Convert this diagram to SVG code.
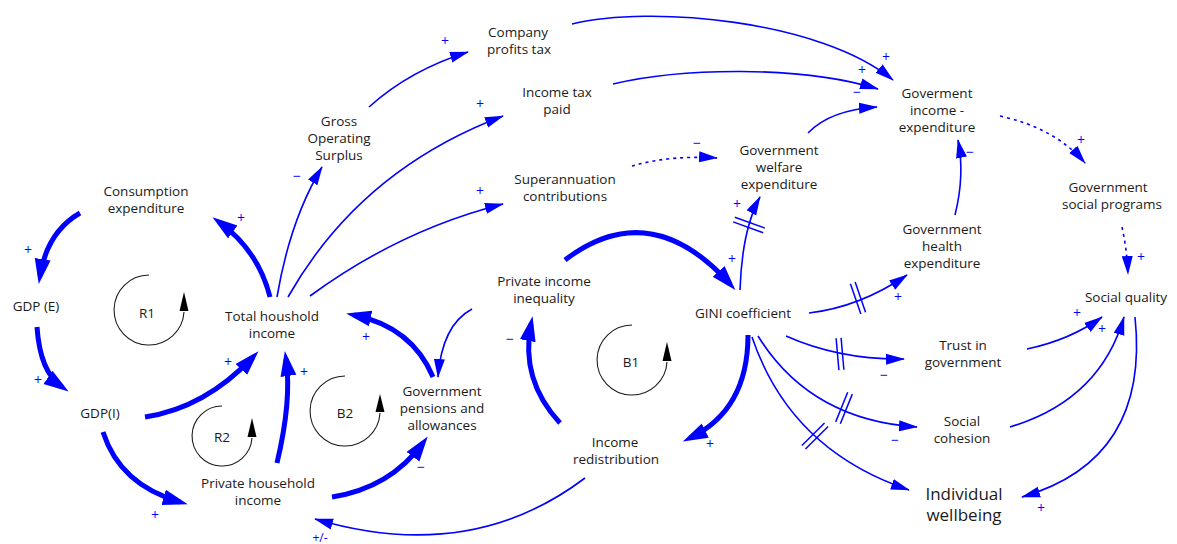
<svg xmlns="http://www.w3.org/2000/svg" width="1177" height="544" viewBox="0 0 1177 544">
<defs>
<style>
.n text{font-family:"Open Sans","Noto Sans",sans-serif;font-size:13.5px;fill:#1a1a1a;text-anchor:middle}
.n text.big{font-size:17px}
.c path{fill:none;stroke:#0000ff}
.c .tk{stroke-width:5;marker-end:url(#ah)}
.c .tn{stroke-width:1.6;marker-end:url(#at)}
.c .dt{stroke-dasharray:3 4}
.c .h line{stroke:#0000ff;stroke-width:1.5}
.s text{font-family:"Open Sans","Noto Sans",sans-serif;font-size:14px;fill:#0000ff;text-anchor:middle}
.lp path.arc{fill:none;stroke:#1a1a1a;stroke-width:1.1}
.lp path.hd{fill:#000}
.lp text{font-family:"Open Sans","Noto Sans",sans-serif;font-size:13.5px;fill:#1a1a1a;text-anchor:middle}
</style>
<marker id="ah" markerUnits="userSpaceOnUse" viewBox="0 -9 26 18" markerWidth="26" markerHeight="18" refX="17" refY="0" orient="auto"><path d="M0,-8 L25,0 L0,8 z" fill="#0000ff"/></marker>
<marker id="at" markerUnits="userSpaceOnUse" viewBox="0 -6 19 12" markerWidth="19" markerHeight="12" refX="18" refY="0" orient="auto"><path d="M0,-5.5 L19,0 L0,5.5 z" fill="#0000ff"/></marker>
</defs>
<rect width="1177" height="544" fill="#ffffff"/>

<g id="connectors" class="c">
<path class="tk" d="M80,213 Q47,232 40,276"/>
<path class="tk" d="M37,327 Q40,372 62,387"/>
<path class="tk" d="M145,417 Q205,408 253,357"/>
<path class="tk" d="M103,432 Q120,485 180,502"/>
<path class="tk" d="M277,463 Q292,400 286,359"/>
<path class="tk" d="M270,297 Q258,250 219,222"/>
<path class="tk" d="M433,377 Q412,327 354,315"/>
<path class="tk" d="M332,497 Q390,488 423,443"/>
<path class="tk" d="M560,423 Q520,380 531,324"/>
<path class="tk" d="M565,260 Q650,195 730,284"/>
<path class="tk" d="M748,335 Q748,410 690,438"/>

<path class="tn" d="M277,297 Q290,220 322,167"/>
<path class="tn" d="M288,297 Q360,170 503,116"/>
<path class="tn" d="M310,296 Q400,230 503,204"/>
<path class="tn" d="M369,107 Q410,70 468,52"/>
<path class="tn" d="M572,24 C650,5 820,20 893,80"/>
<path class="tn" d="M613,84 C680,68 800,65 878,89"/>
<path class="tn" d="M808,133 Q830,110 877,107"/>
<path class="tn dt" d="M1000,116 Q1055,128 1085,163"/>
<path class="tn" d="M955,215 Q965,175 958,140"/>
<path class="tn dt" d="M632,166 Q670,155 717,158"/>
<path class="tn" d="M740,290 Q742,230 760,197"/>
<path class="tn" d="M809,313 Q860,307 907,275"/>
<path class="tn" d="M786,336 Q840,360 904,359"/>
<path class="tn" d="M758,336 Q810,420 917,427"/>
<path class="tn" d="M752,337 Q790,450 909,490"/>
<path class="tn" d="M1027,349 Q1070,340 1102,317"/>
<path class="tn" d="M1010,427 Q1100,400 1124,317"/>
<path class="tn" d="M1135,317 Q1150,460 1022,497"/>
<path class="tn dt" d="M1122,227 Q1127,250 1128,274"/>
<path class="tn" d="M585,478 Q470,565 315,519"/>
<path class="tn" d="M472,309 Q442,325 438,377"/>

<g class="h" transform="translate(749,225) rotate(20)"><line x1="-16" y1="-2.5" x2="16" y2="-2.5"/><line x1="-16" y1="2.5" x2="16" y2="2.5"/></g>
<g class="h" transform="translate(858,298) rotate(71)"><line x1="-16" y1="-2.5" x2="16" y2="-2.5"/><line x1="-16" y1="2.5" x2="16" y2="2.5"/></g>
<g class="h" transform="translate(840,354) rotate(85)"><line x1="-16" y1="-2.5" x2="16" y2="-2.5"/><line x1="-16" y1="2.5" x2="16" y2="2.5"/></g>
<g class="h" transform="translate(844,408) rotate(112)"><line x1="-16" y1="-2.5" x2="16" y2="-2.5"/><line x1="-16" y1="2.5" x2="16" y2="2.5"/></g>
<g class="h" transform="translate(815,436) rotate(135)"><line x1="-16" y1="-2.5" x2="16" y2="-2.5"/><line x1="-16" y1="2.5" x2="16" y2="2.5"/></g>
</g>

<g id="signs" class="s">
<text x="28" y="255">+</text>
<text x="38" y="385">+</text>
<text x="228" y="367">+</text>
<text x="155" y="520">+</text>
<text x="304" y="377">+</text>
<text x="241" y="223">+</text>
<text x="366" y="342">+</text>
<text x="421" y="472">−</text>
<text x="297" y="181">−</text>
<text x="480" y="109">+</text>
<text x="480" y="196">+</text>
<text x="445" y="46">+</text>
<text x="886" y="62">+</text>
<text x="862" y="75">+</text>
<text x="857" y="97">−</text>
<text x="1081" y="145">+</text>
<text x="970" y="157">−</text>
<text x="697" y="148">−</text>
<text x="737" y="209">+</text>
<text x="732" y="264">+</text>
<text x="510" y="344">−</text>
<text x="710" y="449">+</text>
<text x="898" y="302">+</text>
<text x="884" y="380">−</text>
<text x="895" y="445">−</text>
<text x="1141" y="262">+</text>
<text x="1077" y="318">+</text>
<text x="1102" y="334">+</text>
<text x="1041" y="513">+</text>
<text x="320" y="542" style="font-size:12px">+/-</text>
</g>

<g id="loops" class="lp">
<g id="loop-R1"><path class="arc" d="M149,275 A35,35 0 1 0 184,312"/><path class="hd" d="M179.5,311 L188.5,311 L184,292 z"/><text x="147" y="318">R1</text></g>
<g id="loop-R2"><path class="arc" d="M222,406 A30,30 0 1 0 252,438"/><path class="hd" d="M247.5,437 L256.5,437 L252,418 z"/><text x="222" y="442">R2</text></g>
<g id="loop-B2"><path class="arc" d="M345,376 A35,35 0 1 0 380,413"/><path class="hd" d="M375.5,412 L384.5,412 L380,394 z"/><text x="345" y="418">B2</text></g>
<g id="loop-B1"><path class="arc" d="M632,325 A35,35 0 1 0 667,362"/><path class="hd" d="M662.5,361 L671.5,361 L667,342 z"/><text x="631" y="367">B1</text></g>
</g>

<g id="node-consumption" class="n"><text x="146" y="196">Consumption</text><text x="146" y="213">expenditure</text></g>
<g id="node-gdpe" class="n"><text x="36" y="311">GDP (E)</text></g>
<g id="node-gdpi" class="n"><text x="100" y="418">GDP(I)</text></g>
<g id="node-total" class="n"><text x="272" y="321">Total houshold</text><text x="272" y="338">income</text></g>
<g id="node-private" class="n"><text x="258" y="488">Private household</text><text x="258" y="505">income</text></g>
<g id="node-pensions" class="n"><text x="442" y="396">Government</text><text x="442" y="413">pensions and</text><text x="442" y="430">allowances</text></g>
<g id="node-gos" class="n"><text x="339" y="126">Gross</text><text x="339" y="143">Operating</text><text x="339" y="160">Surplus</text></g>
<g id="node-company" class="n"><text x="518" y="37">Company</text><text x="519" y="54">profits tax</text></g>
<g id="node-incometax" class="n"><text x="557" y="97">Income tax</text><text x="557" y="114">paid</text></g>
<g id="node-super" class="n"><text x="565" y="184">Superannuation</text><text x="565" y="201">contributions</text></g>
<g id="node-inequality" class="n"><text x="544" y="286">Private income</text><text x="544" y="303">inequality</text></g>
<g id="node-redistribution" class="n"><text x="615" y="447">Income</text><text x="616" y="464">redistribution</text></g>
<g id="node-gini" class="n"><text x="743" y="318">GINI coefficient</text></g>
<g id="node-welfare" class="n"><text x="779" y="155">Government</text><text x="779" y="172">welfare</text><text x="779" y="189">expenditure</text></g>
<g id="node-govincome" class="n"><text x="937" y="98">Goverment</text><text x="937" y="115">income -</text><text x="937" y="132">expenditure</text></g>
<g id="node-health" class="n"><text x="942" y="234">Government</text><text x="942" y="251">health</text><text x="942" y="268">expenditure</text></g>
<g id="node-socialprograms" class="n"><text x="1108" y="192">Government</text><text x="1112" y="209">social programs</text></g>
<g id="node-socialquality" class="n"><text x="1126" y="302">Social quality</text></g>
<g id="node-trust" class="n"><text x="963" y="350">Trust in</text><text x="963" y="367">government</text></g>
<g id="node-cohesion" class="n"><text x="962" y="426">Social</text><text x="962" y="443">cohesion</text></g>
<g id="node-wellbeing" class="n"><text class="big" x="964" y="500">Individual</text><text class="big" x="964" y="521">wellbeing</text></g>
</svg>
